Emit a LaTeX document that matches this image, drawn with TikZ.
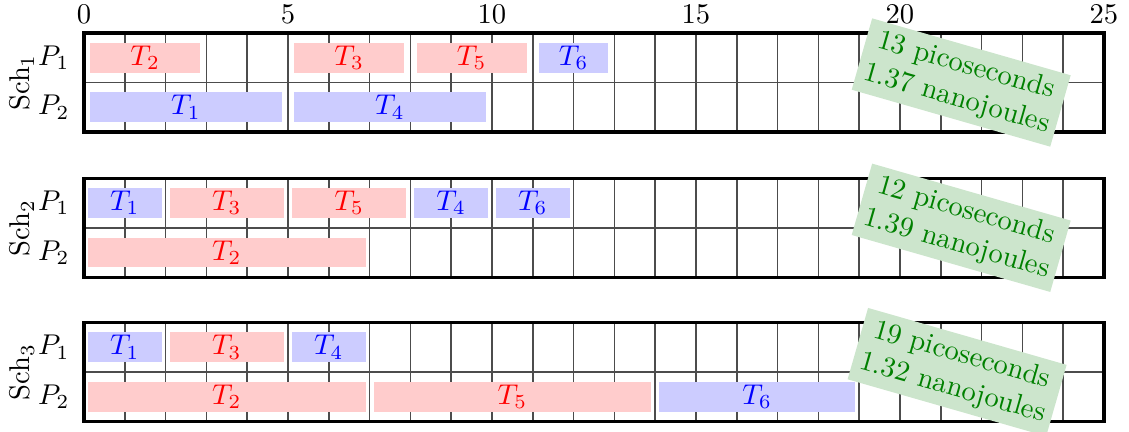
\documentclass[tikz,border=0pt]{standalone}
\begin{document}
\begin{tikzpicture}[x=0.35pt,y=-0.35pt]
\useasboundingbox (0,0) rectangle (1129,431);
\tikzset{
  gridline/.style={black!70,line width=0.5pt},
  frame/.style={black,line width=1.1pt},
  taskbar/.style={inner sep=0pt,minimum height=10.4pt},
  energy/.style={fill=green!50!black!20,text=green!50!black,align=center,rotate=-16,inner sep=2.5pt},
  sched/.style={x=14.28pt,y=-17.325pt,xshift=29.4pt}
}
\newcommand\tsk[7]{%
  \pgfmathsetlengthmacro\tw{(#4-#3-2*#7)*14.28pt}%
  \node[taskbar,fill=#2!20,text=#2,minimum width=\tw] (#1) at ({(#3+#4)/2},{#5+0.5}) {$#6$};%
}
\newcommand\frm[2]{% prefix, index
  \foreach \k in {1,...,24} \draw[gridline] (\k,0) -- (\k,2);
  \draw[gridline] (0,1) -- (25,1);
  \draw[frame] (0,0) rectangle (25,2);
  \node (#1p1) at (-0.74,0.5) {$P_1$};
  \node (#1p2) at (-0.74,1.5) {$P_2$};
  \node[rotate=90] (#1lab) at (-1.52,1) {Sch$_#2$};
}
% schedule 1
\begin{scope}[sched,yshift=-11.55pt]
  \frm{a}{1}
  \foreach \t in {0,5,10,15,20,25} \node (ax\t) at (\t,-0.38) {\t};
  \tsk{a2}{red}{0}{3}{0}{T_2}{0.15}
  \tsk{a3}{red}{5}{8}{0}{T_3}{0.15}
  \tsk{a5}{red}{8}{11}{0}{T_5}{0.15}
  \tsk{a6}{blue}{11}{13}{0}{T_6}{0.15}
  \tsk{a1}{blue}{0}{5}{1}{T_1}{0.15}
  \tsk{a4}{blue}{5}{10}{1}{T_4}{0.15}
  \node[energy] (ae) at (21.5,1) {13 picoseconds\\1.37 nanojoules};
\end{scope}
% schedule 2
\begin{scope}[sched,yshift=-62.4pt]
  \frm{b}{2}
  \tsk{b1}{blue}{0}{2}{0}{T_1}{0.1}
  \tsk{b3}{red}{2}{5}{0}{T_3}{0.1}
  \tsk{b5}{red}{5}{8}{0}{T_5}{0.1}
  \tsk{b4}{blue}{8}{10}{0}{T_4}{0.1}
  \tsk{b6}{blue}{10}{12}{0}{T_6}{0.1}
  \tsk{b2}{red}{0}{7}{1}{T_2}{0.1}
  \node[energy] (be) at (21.5,1) {12 picoseconds\\1.39 nanojoules};
\end{scope}
% schedule 3
\begin{scope}[sched,yshift=-112.9pt]
  \frm{c}{3}
  \tsk{c1}{blue}{0}{2}{0}{T_1}{0.1}
  \tsk{c3}{red}{2}{5}{0}{T_3}{0.1}
  \tsk{c4}{blue}{5}{7}{0}{T_4}{0.1}
  \tsk{c2}{red}{0}{7}{1}{T_2}{0.1}
  \tsk{c5}{red}{7}{14}{1}{T_5}{0.1}
  \tsk{c6}{blue}{14}{19}{1}{T_6}{0.1}
  \node[energy] (ce) at (21.4,1) {19 picoseconds\\1.32 nanojoules};
\end{scope}
\end{tikzpicture}
\end{document}
